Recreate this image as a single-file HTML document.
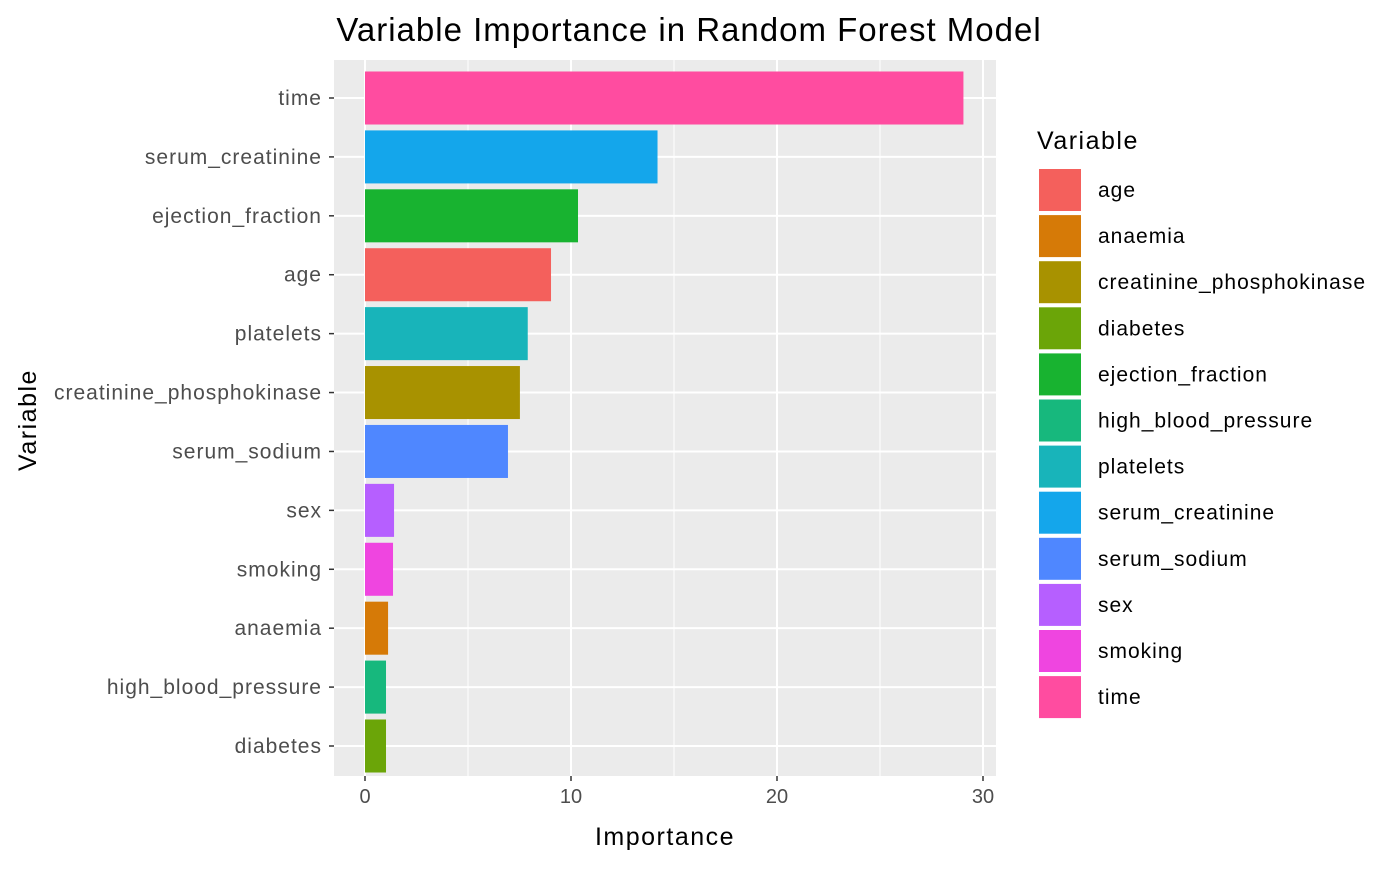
<!DOCTYPE html>
<html><head><meta charset="utf-8"><style>
body{margin:0;background:#fff;}
svg text{font-family:"Liberation Sans",Arial,sans-serif;}
.lab{letter-spacing:1px;}
</style></head><body>
<svg id="chart" width="1400" height="865" xmlns="http://www.w3.org/2000/svg">
<text x="689" y="41" font-size="33" text-anchor="middle" fill="#000" class="lab">Variable Importance in Random Forest Model</text>
<rect x="334" y="60" width="662" height="716" fill="#EBEBEB"/>
<g id="grid"></g><g id="bars"></g><g id="axes"></g><g id="legend"></g>
<text x="665" y="845" font-size="25" text-anchor="middle" fill="#000" style="letter-spacing:1.5px">Importance</text>
<text transform="translate(36,420) rotate(-90)" font-size="25" text-anchor="middle" fill="#000" style="letter-spacing:1.5px">Variable</text>
</svg>
<script>
const categories=["time","serum_creatinine","ejection_fraction","age","platelets","creatinine_phosphokinase","serum_sodium","sex","smoking","anaemia","high_blood_pressure","diabetes"];
const values=[29.05,14.2,10.34,9.03,7.9,7.52,6.94,1.41,1.36,1.12,1.02,1.02];
const xTicks=[0,10,20,30];
const legendNames=["age","anaemia","creatinine_phosphokinase","diabetes","ejection_fraction","high_blood_pressure","platelets","serum_creatinine","serum_sodium","sex","smoking","time"];
const legendColors=["#F4605C","#D67A07","#A89200","#6BA508","#18B330","#17B87D","#18B4BA","#14A6EB","#4F87FF","#B65FFF","#EF45E0","#FF4CA0"];
const NS="http://www.w3.org/2000/svg";
const px0=365,pxPer=(983-365)/30;
const xs=v=>px0+v*pxPer;
const ys=i=>98+i*((746-98)/11);
function mk(t,a,p){const e=document.createElementNS(NS,t);for(const k in a)e.setAttribute(k,a[k]);p.appendChild(e);return e;}
const grid=document.getElementById('grid'),bars=document.getElementById('bars'),axes=document.getElementById('axes'),leg=document.getElementById('legend');
[5,15,25].forEach(v=>{const l=mk('line',{x1:xs(v),x2:xs(v),y1:60,y2:776,stroke:'#fff','stroke-width':1},grid);

});
xTicks.forEach(v=>{const l=mk('line',{x1:xs(v),x2:xs(v),y1:60,y2:776,stroke:'#fff','stroke-width':2},grid);


const t=mk('line',{x1:xs(v),x2:xs(v),y1:776,y2:781,stroke:'#333','stroke-width':1.5},axes);


const tx=mk('text',{x:xs(v),y:803,'font-size':20,'text-anchor':'middle',fill:'#4D4D4D'},axes);tx.textContent=v;

});
const bh=((746-98)/11)*0.9;
categories.forEach((c,i)=>{const y=ys(i);
const l=mk('line',{x1:334,x2:996,y1:y,y2:y,stroke:'#fff','stroke-width':2},grid);


const r=mk('rect',{x:xs(0),y:y-bh/2,width:xs(values[i])-xs(0),height:bh,fill:legendColors[legendNames.indexOf(c)]},bars);


const t=mk('line',{x1:329,x2:334,y1:y,y2:y,stroke:'#333','stroke-width':1.5},axes);


const tx=mk('text',{x:322,y:y+7,'font-size':21,'text-anchor':'end',fill:'#4D4D4D','class':'lab'},axes);tx.textContent=c;

});
const lt=mk('text',{x:1037,y:149,'font-size':25,fill:'#000',style:'letter-spacing:1.5px'},leg);lt.textContent='Variable';


legendNames.forEach((n,i)=>{const cy=190+i*46.1;
const r=mk('rect',{x:1038,y:cy-22,width:44,height:44,fill:legendColors[i],stroke:'#fff','stroke-width':2},leg);


const tx=mk('text',{x:1098,y:cy+7,'font-size':21,fill:'#000','class':'lab'},leg);tx.textContent=n;

});
</script>
</body></html>
